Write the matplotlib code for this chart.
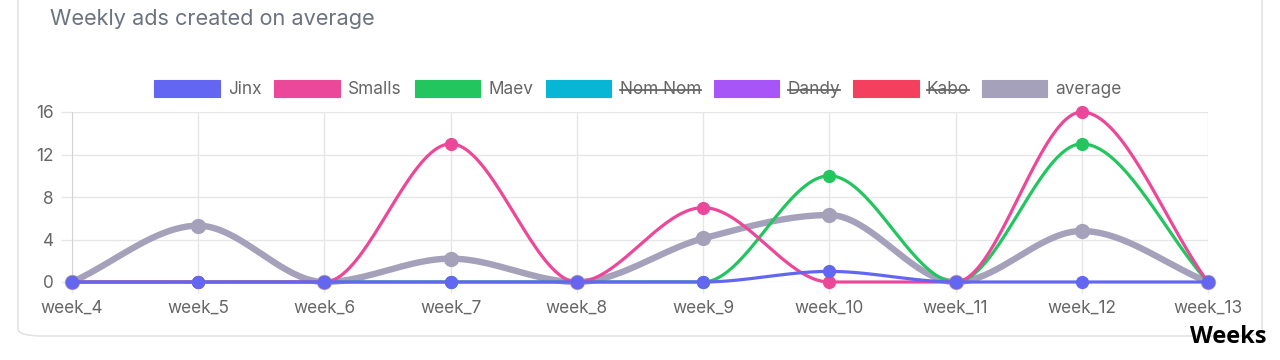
import numpy as np
import matplotlib
matplotlib.use("Agg")
import matplotlib.pyplot as plt
import matplotlib.patches as mpatches
from matplotlib.lines import Line2D

weeks = ["week_4", "week_5", "week_6", "week_7", "week_8",
         "week_9", "week_10", "week_11", "week_12", "week_13"]
jinx = [0, 0, 0, 0, 0, 0, 1, 0, 0, 0]
smalls = [0, 0, 0, 13, 0, 7, 0, 0, 16, 0]
maev = [0, 0, 0, 0, 0, 0, 10, 0, 13, 0]
average = [0, 5.3, 0, 2.2, 0, 4.1, 6.3, 0, 4.8, 0]
y_ticks = [0, 4, 8, 12, 16]

legend_labels = ["Jinx", "Smalls", "Maev", "Nom Nom", "Dandy", "Kabo", "average"]
legend_colors = ["#6366f1", "#ec4899", "#22c55e", "#06b6d4", "#a855f7", "#f43f5e", "#a6a1ba"]
hidden = ["Nom Nom", "Dandy", "Kabo"]


def monotone(y, n=40):
    """Chart.js style monotone cubic (Fritsch-Carlson) sampled densely."""
    y = np.asarray(y, dtype=float)
    x = np.arange(len(y), dtype=float)
    d = np.diff(y)
    m = np.zeros(len(y))
    m[0], m[-1] = d[0], d[-1]
    for i in range(1, len(y) - 1):
        if d[i - 1] == 0 or d[i] == 0 or np.sign(d[i - 1]) != np.sign(d[i]):
            m[i] = 0
        else:
            m[i] = (d[i - 1] + d[i]) / 2
    for i in range(len(d)):
        if d[i] == 0:
            m[i] = m[i + 1] = 0
            continue
        a, b = m[i] / d[i], m[i + 1] / d[i]
        s = a * a + b * b
        if s > 9:
            t = 3 / np.sqrt(s)
            m[i], m[i + 1] = t * a * d[i], t * b * d[i]
    xs, ys = [], []
    for i in range(len(d)):
        t = np.linspace(0, 1, n, endpoint=(i == len(d) - 1))
        h00 = 2 * t**3 - 3 * t**2 + 1
        h10 = t**3 - 2 * t**2 + t
        h01 = -2 * t**3 + 3 * t**2
        h11 = t**3 - t**2
        xs.append(x[i] + t)
        ys.append(h00 * y[i] + h10 * m[i] + h01 * y[i + 1] + h11 * m[i + 1])
    return np.concatenate(xs), np.concatenate(ys)


plt.rcParams["font.family"] = ["Inter", "DejaVu Sans"]
fig = plt.figure(figsize=(12.8, 3.6), dpi=100)

# card background
card = mpatches.FancyBboxPatch((18 / 1280, 24 / 360), 1244 / 1280, 400 / 360,
                               boxstyle="round,pad=0,rounding_size=0.02",
                               transform=fig.transFigure, facecolor="white",
                               edgecolor="#e3e3e3", lw=1.2, zorder=0)
fig.add_artist(card)

fig.text(50 / 1280, 1 - 19 / 360, "Weekly ads created on average",
         fontsize=15.6, color="#6b7280", va="center", ha="left")
fig.text(1266 / 1280, 1 - 337 / 360, "Weeks", fontsize=17, fontweight="bold",
         family=["Open Sans", "DejaVu Sans"], color="black",
         ha="right", va="center")

ax = fig.add_axes([72 / 1280, 1 - 282 / 360, 1136 / 1280, 170 / 360])
ax.set_facecolor("none")
x = np.arange(len(weeks))

series = [
    (average, legend_colors[6], 4.6, 10),
    (maev, legend_colors[2], 2.3, 8.5),
    (smalls, legend_colors[1], 2.3, 8.5),
    (jinx, legend_colors[0], 2.3, 8.5),
]
for z, (vals, col, lw, ms) in enumerate(series):
    sx, sy = monotone(vals)
    ax.plot(sx, sy, color=col, lw=lw, solid_capstyle="round", zorder=3 + z,
            clip_on=False)
    ax.plot(x, vals, "o", color=col, ms=ms, zorder=3 + z, clip_on=False)

ax.set_xlim(0, len(weeks) - 1)
ax.set_ylim(0, 16)
ax.set_xticks(x)
ax.set_xticklabels(weeks)
ax.set_yticks(y_ticks)
ax.grid(True, color="#e6e6e6", lw=1)
ax.tick_params(colors="#e6e6e6", labelcolor="#666666", labelsize=12.4,
               length=8, width=1, pad=5)
for side in ["top", "right", "bottom"]:
    ax.spines[side].set_visible(False)
ax.spines["left"].set_color("#d4d4d4")
ax.set_axisbelow(True)

handles = [mpatches.Patch(facecolor=c, edgecolor=c, alpha=1, lw=0.8)
           for c in legend_colors]
leg = fig.legend(handles, legend_labels, loc="center",
                 bbox_to_anchor=(638 / 1280, 1 - 89 / 360), ncol=7,
                 frameon=False, fontsize=12.4, handlelength=3.8,
                 handleheight=1.15, handletextpad=0.47, columnspacing=0.76,
                 labelcolor="#666666")
fig.canvas.draw()
renderer = fig.canvas.get_renderer()
for txt in leg.get_texts():
    if txt.get_text() in hidden:
        bb = txt.get_window_extent(renderer)
        ym = (bb.y0 + bb.y1) / 2
        fig.add_artist(Line2D([bb.x0 / 1280, bb.x1 / 1280], [ym / 360, ym / 360],
                              transform=fig.transFigure, color="#666666", lw=1.3))

fig.savefig("out.png", dpi=100)
